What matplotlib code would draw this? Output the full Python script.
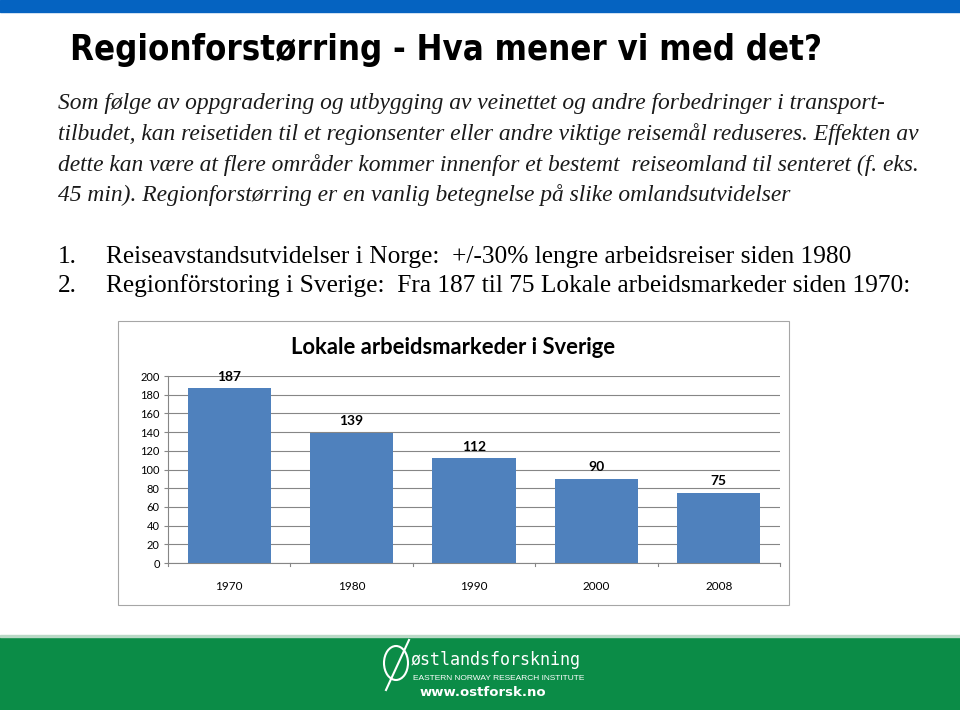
import matplotlib
matplotlib.use("Agg")
from matplotlib import pyplot as plt
from matplotlib import patches, lines
from matplotlib import font_manager

years = ["1970", "1980", "1990", "2000", "2008"]
markets = [187, 139, 112, 90, 75]
yticks = [0, 20, 40, 60, 80, 100, 120, 140, 160, 180, 200]

title = "Regionforstørring - Hva mener vi med det?"
intro = [
    "Som følge av oppgradering og utbygging av veinettet og andre forbedringer i transport-",
    "tilbudet, kan reisetiden til et regionsenter eller andre viktige reisemål reduseres. Effekten av",
    "dette kan være at flere områder kommer innenfor et bestemt  reiseomland til senteret (f. eks.",
    "45 min). Regionforstørring er en vanlig betegnelse på slike omlandsutvidelser",
]
points = [
    "Reiseavstandsutvidelser i Norge:  +/-30% lengre arbeidsreiser siden 1980",
    "Regionförstoring i Sverige:  Fra 187 til 75 Lokale arbeidsmarkeder siden 1970:",
]
chart_title = "Lokale arbeidsmarkeder i Sverige"

W, H = 960, 710
names = {f.name for f in font_manager.fontManager.ttflist}
narrow = "Liberation Sans Narrow" if "Liberation Sans Narrow" in names else "DejaVu Sans"
chart_font = "Lato" if "Lato" in names else "DejaVu Sans"

fig = plt.figure(figsize=(9.6, 7.1), dpi=100)
fig.patch.set_facecolor("white")


def px(x, y):
    return x / W, 1 - y / H


# top blue strip and green footer
fig.add_artist(patches.Rectangle((0, 1 - 12 / H), 1, 12 / H, color="#0563c1",
                                 transform=fig.transFigure, zorder=0))
fig.add_artist(patches.Rectangle((0, 0), 1, 73 / H, color="#0b8c47",
                                 transform=fig.transFigure, zorder=0))
fig.add_artist(patches.Rectangle((0, 73 / H), 1, 2 / H, color="#b9d9c6",
                                 transform=fig.transFigure, zorder=0))

t = fig.text(*px(70, 50), title, family=narrow, weight="bold", stretch="condensed",
             fontsize=35, ha="left", va="center", color="black")
renderer = fig.canvas.get_renderer()
tw = t.get_window_extent(renderer).width
if tw > 752:
    t.set_fontsize(35 * 752 / tw)

for i, line in enumerate(intro):
    fig.text(*px(58, 104 + i * 30.5), line, family="Liberation Serif", style="italic",
             fontsize=16.9, ha="left", va="center", color="#1a1a1a")

for i, line in enumerate(points):
    fig.text(*px(58, 257 + i * 29), f"{i + 1}.", family="Liberation Serif",
             fontsize=18.3, ha="left", va="center", color="black")
    fig.text(*px(106, 257 + i * 29), line, family="Liberation Serif",
             fontsize=18.3, ha="left", va="center", color="black")

# chart frame
fig.add_artist(patches.Rectangle(px(118, 605), 671 / W, 284 / H, fill=False,
                                 edgecolor="#a6a6a6", linewidth=0.8,
                                 transform=fig.transFigure))

ax = fig.add_axes([168 / W, 1 - 563 / H, 612 / W, 187 / H])
x = range(len(years))
bars = ax.bar(x, markets, width=0.68, color="#4f81bd", zorder=3)
ax.set_xlim(-0.5, len(years) - 0.5)
ax.set_ylim(0, 200)
ax.set_yticks(yticks)
ax.set_yticklabels([str(v) for v in yticks], family=chart_font, fontsize=8)
ax.set_xticks(list(x))
ax.set_xticklabels(years, family=chart_font, fontsize=8.5)
ax.tick_params(axis="x", length=0, pad=13)
ax.tick_params(axis="y", length=3, width=0.8, color="#868686", pad=3)
ax.grid(axis="y", color="#868686", linewidth=0.8, zorder=0)
for s in ["top", "right"]:
    ax.spines[s].set_visible(False)
for s in ["left", "bottom"]:
    ax.spines[s].set_color("#868686")
    ax.spines[s].set_linewidth(0.8)
for i in range(len(years) + 1):
    ax.plot([i - 0.5, i - 0.5], [0, -3], color="#868686", lw=0.8, clip_on=False)
for b, v in zip(bars, markets):
    ax.text(b.get_x() + b.get_width() / 2, v + 6, str(v), ha="center", va="bottom",
            family=chart_font, weight="bold", fontsize=10)
fig.text(*px(453, 347), chart_title, family=chart_font, weight="bold", fontsize=15.8,
         ha="center", va="center")

# footer logo
fig.add_artist(patches.Ellipse(px(396, 663), 24 / W, 34 / H, fill=False, edgecolor="white",
                               linewidth=1.5, transform=fig.transFigure))
fig.add_artist(lines.Line2D([386 / W, 409 / W], [1 - 690 / H, 1 - 640 / H], color="white",
                            linewidth=1.5, transform=fig.transFigure))
fig.text(*px(411, 660), "østlandsforskning", family="DejaVu Sans Mono", fontsize=12,
         color="white", ha="left", va="center")
fig.text(*px(413, 678), "EASTERN NORWAY RESEARCH INSTITUTE", family="Liberation Sans",
         fontsize=6, color="white", ha="left", va="center")
fig.text(*px(420, 693), "www.ostforsk.no", family="DejaVu Sans", weight="bold", fontsize=9.5,
         color="white", ha="left", va="center")

fig.savefig("out.png", dpi=100)
